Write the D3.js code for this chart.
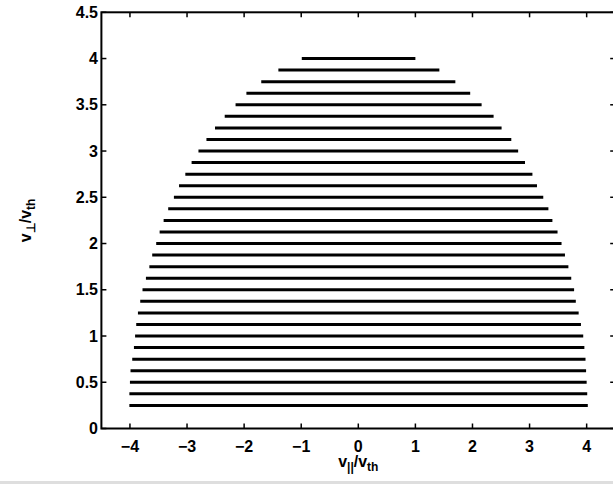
<!DOCTYPE html>
<html>
<head>
<meta charset="utf-8">
<script src="https://cdn.jsdelivr.net/npm/d3@7"></script>
<style>
  html, body { margin: 0; padding: 0; background: #fff; }
  svg { display: block; }
  text { font-family: "Liberation Sans", Arial, Helvetica, sans-serif; font-weight: bold; fill: #000; }
</style>
</head>
<body>
<svg id="chart" width="613" height="484"></svg>
<script>
// Perpendicular velocity of each sampled row (v_perp / v_th)
const vPerp = [0.25, 0.375, 0.5, 0.625, 0.75, 0.875, 1.0, 1.125, 1.25, 1.375, 1.5,
               1.625, 1.75, 1.875, 2.0, 2.125, 2.25, 2.375, 2.5, 2.625, 2.75,
               2.875, 3.0, 3.125, 3.25, 3.375, 3.5, 3.625, 3.75, 3.875, 4.0];
// Parallel velocity extent of each row (v_par / v_th)
const vParMin = [-4.01, -4.01, -4.00, -3.99, -3.96, -3.93, -3.91, -3.89, -3.86, -3.82, -3.78,
                 -3.72, -3.66, -3.61, -3.54, -3.48, -3.41, -3.33, -3.23, -3.14, -3.03,
                 -2.92, -2.80, -2.66, -2.51, -2.34, -2.15, -1.96, -1.70, -1.40, -0.99];
const vParMax = [4.02, 4.01, 4.00, 3.99, 3.98, 3.96, 3.94, 3.90, 3.86, 3.81, 3.78,
                 3.73, 3.68, 3.62, 3.56, 3.49, 3.40, 3.33, 3.24, 3.13, 3.05,
                 2.92, 2.80, 2.68, 2.51, 2.37, 2.16, 1.96, 1.70, 1.42, 1.00];
const xTicks = [-4, -3, -2, -1, 0, 1, 2, 3, 4];
const yTicks = [0, 0.5, 1, 1.5, 2, 2.5, 3, 3.5, 4, 4.5];

const svg = d3.select("#chart");

// light strip along the bottom edge of the figure
svg.append("rect").attr("x", 0).attr("y", 481).attr("width", 613).attr("height", 3).attr("fill", "#dedede");

const x = d3.scaleLinear().domain([-4.5, 4.5]).range([101.4, 615.2]);
const y = d3.scaleLinear().domain([0, 4.5]).range([428.5, 12.3]);

const rows = vPerp.map((v, i) => ({ v, lo: vParMin[i], hi: vParMax[i] }));

// one horizontal segment per row
svg.append("g")
  .selectAll("line")
  .data(rows)
  .join("line")
  .attr("x1", d => x(d.lo))
  .attr("x2", d => x(d.hi))
  .attr("y1", d => y(d.v))
  .attr("y2", d => y(d.v))
  .attr("stroke", "#000")
  .attr("stroke-width", 3);

// axes box with inward ticks
const tickLen = 5;
const frame = svg.append("g").attr("stroke", "#000").attr("fill", "none");
frame.append("rect")
  .attr("x", x(-4.5)).attr("y", y(4.5))
  .attr("width", x(4.5) - x(-4.5)).attr("height", y(0) - y(4.5))
  .attr("stroke-width", 2);

xTicks.forEach(t => {
  frame.append("line").attr("x1", x(t)).attr("x2", x(t))
    .attr("y1", y(0)).attr("y2", y(0) - tickLen).attr("stroke-width", 1.5);
  frame.append("line").attr("x1", x(t)).attr("x2", x(t))
    .attr("y1", y(4.5)).attr("y2", y(4.5) + tickLen).attr("stroke-width", 1.5);
});
yTicks.forEach(t => {
  frame.append("line").attr("x1", x(-4.5)).attr("x2", x(-4.5) + tickLen)
    .attr("y1", y(t)).attr("y2", y(t)).attr("stroke-width", 1.5);
  frame.append("line").attr("x1", x(4.5)).attr("x2", x(4.5) - tickLen)
    .attr("y1", y(t)).attr("y2", y(t)).attr("stroke-width", 1.5);
});

// tick labels
const fmt = d => (d < 0 ? "\u2212" + Math.abs(d) : String(d));
svg.append("g").selectAll("text")
  .data(xTicks).join("text")
  .attr("x", d => x(d)).attr("y", 451.5)
  .attr("text-anchor", "middle")
  .style("font-size", "16px")
  .text(fmt);

svg.append("g").selectAll("text")
  .data(yTicks).join("text")
  .attr("x", 98).attr("y", d => y(d) + 5.5)
  .attr("text-anchor", "end")
  .style("font-size", "16px")
  .text(d => String(d));

// axis titles with subscripts
function title(sel, parts) {
  parts.forEach(p => {
    const ts = sel.append("tspan").text(p.t);
    if (p.sub) ts.attr("baseline-shift", "-30%").style("font-size", "12px");
  });
}

const xl = svg.append("text")
  .attr("x", x(0)).attr("y", 467)
  .attr("text-anchor", "middle")
  .style("font-size", "16px");
title(xl, [{ t: "v" }, { t: "||", sub: true }, { t: "/v" }, { t: "th", sub: true }]);

const yl = svg.append("text")
  .attr("transform", `translate(31,${(y(0) + y(4.5)) / 2}) rotate(-90)`)
  .attr("text-anchor", "middle")
  .style("font-size", "16px");
title(yl, [{ t: "v" }, { t: "\u22A5", sub: true }, { t: "/v" }, { t: "th", sub: true }]);
</script>
</body>
</html>
